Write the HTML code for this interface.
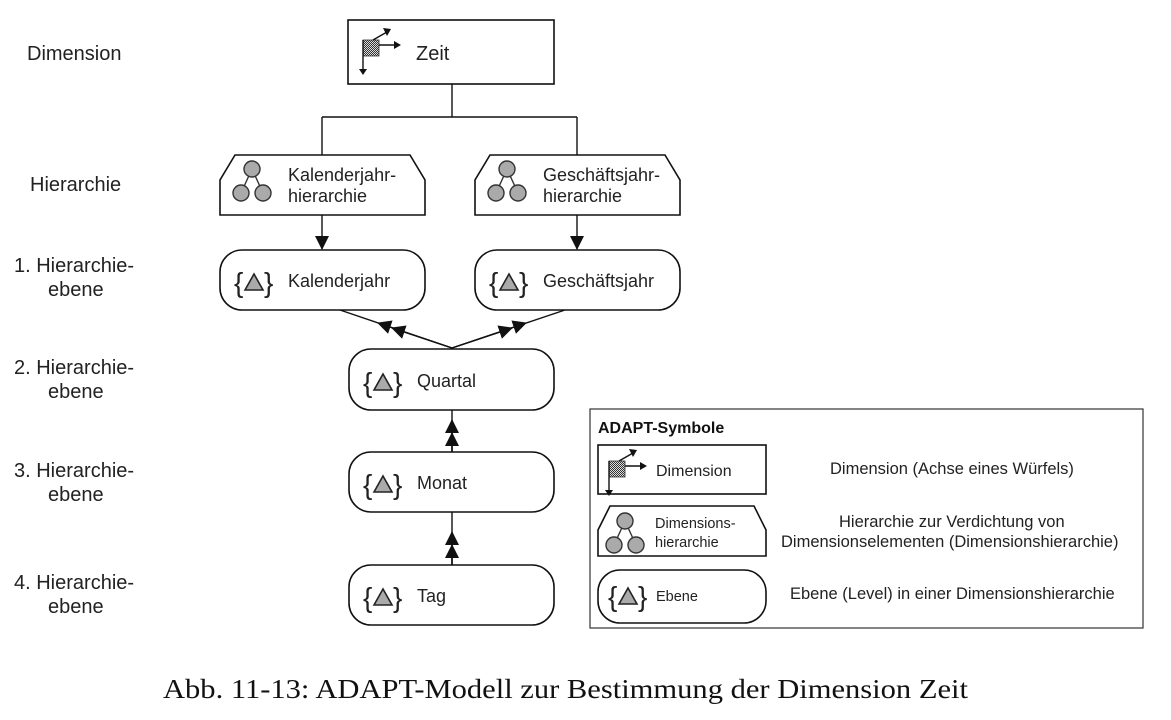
<!DOCTYPE html>
<html><head><meta charset="utf-8"><style>
html,body{margin:0;padding:0;background:#fff;}
svg{display:block;font-family:"Liberation Sans",Arial,sans-serif;}
.t{font-size:20px;fill:#222;}
.b{font-size:18px;fill:#222;}
.s{font-size:16.5px;fill:#222;}
.bx{fill:#fff;stroke:#111;stroke-width:1.6;}
.ln{stroke:#111;stroke-width:1.4;fill:none;}
</style></head><body>
<svg width="1171" height="720" viewBox="0 0 1171 720">
<defs>
<pattern id="chk" width="2" height="2" patternUnits="userSpaceOnUse"><rect width="2" height="2" fill="#ddd"/><rect width="1" height="1" fill="#333"/><rect x="1" y="1" width="1" height="1" fill="#333"/></pattern>
<marker id="ah" markerWidth="14" markerHeight="14" refX="13" refY="7" orient="auto" markerUnits="userSpaceOnUse"><path d="M0,0 L14,7 L0,14 z" fill="#111"/></marker>
<g id="dimicon"><rect x="0" y="0" width="16" height="16" fill="url(#chk)" stroke="#333" stroke-width="0.8"/><path d="M0,0 V32" stroke="#111" stroke-width="1.4"/><path d="M-4,29 L0,35 L4,29z" fill="#111"/><path d="M16,5 H34" stroke="#111" stroke-width="1.4"/><path d="M31,1 L38,5 L31,9z" fill="#111"/><path d="M10,0 L24,-8" stroke="#111" stroke-width="1.4"/><path d="M20,-12 L28,-11 L24,-4z" fill="#111"/></g>
<g id="hicon"><line x1="0" y1="0" x2="-11" y2="24" stroke="#333" stroke-width="1.4"/><line x1="0" y1="0" x2="11" y2="24" stroke="#333" stroke-width="1.4"/><circle cx="0" cy="0" r="8" fill="#aaa" stroke="#333" stroke-width="1.4"/><circle cx="-11" cy="24" r="8" fill="#aaa" stroke="#333" stroke-width="1.4"/><circle cx="11" cy="24" r="8" fill="#aaa" stroke="#333" stroke-width="1.4"/></g>
<g id="licon"><text x="-2" y="9" font-size="28" fill="#222">{</text><text x="28" y="9" font-size="28" fill="#222">}</text><path d="M9,7 L18,-9 L27,7z" fill="#aaa" stroke="#222" stroke-width="1.6"/></g>
</defs>

<g>
<text class="t" x="27" y="60">Dimension</text>
<text class="t" x="30" y="191">Hierarchie</text>
<text class="t" x="14" y="272">1. Hierarchie-</text><text class="t" x="48" y="296">ebene</text>
<text class="t" x="14" y="374">2. Hierarchie-</text><text class="t" x="48" y="398">ebene</text>
<text class="t" x="14" y="477">3. Hierarchie-</text><text class="t" x="48" y="501">ebene</text>
<text class="t" x="14" y="589">4. Hierarchie-</text><text class="t" x="48" y="613">ebene</text>
</g>

<g>
<path class="ln" d="M452,84 V117 M322,117 H577 M322,117 V155 M577,117 V155"/>
<path class="ln" d="M322,215 V249" marker-end="url(#ah)"/>
<path class="ln" d="M577,215 V249" marker-end="url(#ah)"/>
<path class="ln" d="M452,348 L340,310"/>
<path class="ln" d="M452,348 L392,328" marker-end="url(#ah)"/>
<path class="ln" d="M452,348 L378,323" marker-end="url(#ah)"/>
<path class="ln" d="M452,348 L565,310"/>
<path class="ln" d="M452,348 L512,328" marker-end="url(#ah)"/>
<path class="ln" d="M452,348 L526,323" marker-end="url(#ah)"/>
<path class="ln" d="M452,452 V410"/>
<path class="ln" d="M452,452 V433" marker-end="url(#ah)"/>
<path class="ln" d="M452,452 V420" marker-end="url(#ah)"/>
<path class="ln" d="M452,565 V512"/>
<path class="ln" d="M452,565 V545" marker-end="url(#ah)"/>
<path class="ln" d="M452,565 V532" marker-end="url(#ah)"/>
</g>

<g><rect class="bx" x="348" y="20" width="206" height="64"/><use href="#dimicon" x="363" y="40"/><text class="t" x="416" y="60">Zeit</text></g>

<g><path class="bx" d="M220,215 V180 L235,155 H410 L425,180 V215Z"/><use href="#hicon" x="252" y="169"/><text class="b" x="288" y="181">Kalenderjahr-</text><text class="b" x="288" y="202">hierarchie</text></g>
<g><path class="bx" d="M475,215 V180 L490,155 H665 L680,180 V215Z"/><use href="#hicon" x="507" y="169"/><text class="b" x="543" y="181">Geschäftsjahr-</text><text class="b" x="543" y="202">hierarchie</text></g>

<g><rect class="bx" x="220" y="250" width="205" height="60" rx="22"/><use href="#licon" x="236" y="283"/><text class="b" x="288" y="287">Kalenderjahr</text></g>
<g><rect class="bx" x="475" y="250" width="205" height="60" rx="22"/><use href="#licon" x="491" y="283"/><text class="b" x="543" y="287">Geschäftsjahr</text></g>
<g><rect class="bx" x="349" y="349" width="205" height="61" rx="22"/><use href="#licon" x="365" y="383"/><text class="b" x="417" y="387">Quartal</text></g>
<g><rect class="bx" x="349" y="452" width="205" height="60" rx="22"/><use href="#licon" x="365" y="485"/><text class="b" x="417" y="489">Monat</text></g>
<g><rect class="bx" x="349" y="565" width="205" height="60" rx="22"/><use href="#licon" x="365" y="598"/><text class="b" x="417" y="602">Tag</text></g>

<g>
<rect x="590" y="409" width="553" height="219" fill="#fff" stroke="#333" stroke-width="1.2"/>
<text x="598" y="433" font-size="16" font-weight="bold" fill="#111">ADAPT-Symbole</text>
<g><rect class="bx" x="598" y="445" width="168" height="49"/><use href="#dimicon" x="609" y="461"/><text x="656" y="476" font-size="16" fill="#222">Dimension</text><text class="s" x="830" y="474">Dimension (Achse eines Würfels)</text></g>
<g><path class="bx" d="M598,556 V530 L610,506 H754 L766,530 V556Z"/><use href="#hicon" x="625" y="521"/><text x="655" y="528" font-size="14.5" fill="#222">Dimensions-</text><text x="655" y="547" font-size="14.5" fill="#222">hierarchie</text><text class="s" x="839" y="527">Hierarchie zur Verdichtung von</text><text class="s" x="781" y="547">Dimensionselementen (Dimensionshierarchie)</text></g>
<g><rect class="bx" x="598" y="570" width="168" height="53" rx="22"/><use href="#licon" x="610" y="597"/><text x="656" y="601" font-size="14.5" fill="#222">Ebene</text><text class="s" x="790" y="599">Ebene (Level) in einer Dimensionshierarchie</text></g>
</g>

<text x="163" y="698" textLength="805" lengthAdjust="spacingAndGlyphs" font-family="Liberation Serif,serif" font-size="27" fill="#111">Abb. 11-13: ADAPT-Modell zur Bestimmung der Dimension Zeit</text>
</svg>
</body></html>
